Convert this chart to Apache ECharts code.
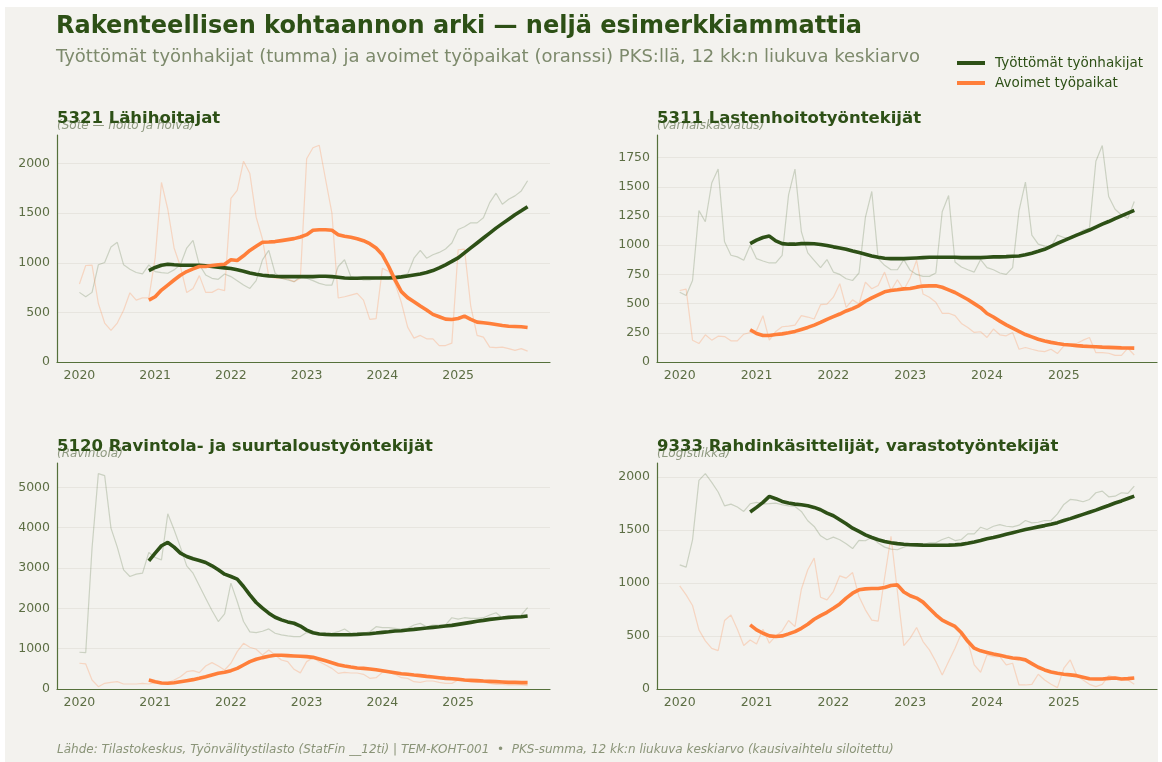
<!DOCTYPE html>
<html>
<head>
<meta charset="utf-8">
<script src="https://cdn.jsdelivr.net/npm/echarts@6/dist/echarts.min.js"></script>
<style>
  html, body { margin: 0; padding: 0; background: #fff; }
  #wrap { position: relative; width: 1162px; height: 762px; background: #fff; }
  #paper { position: absolute; left: 5px; top: 7px; right: 4px; bottom: 0; background: #f3f2ee; }
  #chart { position: absolute; left: 0; top: 0; width: 1162px; height: 762px; }
</style>
</head>
<body>
<div id="wrap"><div id="paper"></div><div id="chart"></div></div>
<script>
// kuukaudet 2020-01 ... 2025-12 indekseinä 0..71, liukuva ka alkaa 2020-12 (indeksi 11)
const YEARS = ['2020', '2021', '2022', '2023', '2024', '2025'];
const AVG_START = 11;

// 5321 Lähihoitajat
const p1Unemp = [702, 658, 702, 980, 1003, 1159, 1207, 980, 936, 902, 888, 980,
  912, 902, 895, 929, 980, 1149, 1227, 980, 878, 844, 834, 888,
  861, 820, 776, 742, 820, 1030, 1125, 895, 844, 827, 810, 861,
  844, 820, 793, 776, 776, 963, 1031, 861, 844, 827, 827, 844,
  861, 854, 861, 868, 888, 1047, 1125, 1047, 1081, 1105, 1139, 1200,
  1336, 1363, 1403, 1403, 1454, 1607, 1702, 1590, 1641, 1675, 1725, 1827];
const p1Vac = [786, 973, 976, 590, 393, 319, 393, 522, 698, 624, 647, 647,
  1050, 1810, 1540, 1150, 963, 700, 742, 871, 702, 702, 736, 719,
  1650, 1730, 2025, 1900, 1460, 1240, 861, 844, 844, 837, 810, 844,
  2050, 2160, 2185, 1840, 1500, 645, 658, 675, 692, 624, 430, 437,
  946, 912, 793, 600, 352, 241, 268, 234, 234, 166, 166, 190,
  1132, 1139, 560, 268, 251, 150, 145, 150, 135, 118, 135, 110];
const p1UnempAvg = [922, 953, 976, 986, 980, 976, 976, 976, 976, 970, 963, 956, 949,
  942, 929, 915, 898, 885, 875, 868, 864, 861, 861, 861, 861,
  861, 861, 864, 864, 861, 854, 847, 844, 844, 847, 847, 847,
  847, 847, 851, 858, 868, 878, 888, 902, 922, 949, 980, 1014,
  1050, 1100, 1150, 1200, 1250, 1300, 1350, 1395, 1440, 1485, 1525, 1566];
const p1VacAvg = [624, 658, 725, 776, 827, 875, 912, 939, 963, 963, 973, 980, 986,
  1031, 1024, 1071, 1125, 1166, 1207, 1210, 1214, 1224, 1234, 1244, 1261,
  1284, 1328, 1334, 1334, 1328, 1284, 1267, 1257, 1243, 1223, 1193, 1150,
  1081, 963, 828, 709, 649, 608, 564, 524, 480, 456, 432, 429,
  439, 463, 429, 402, 395, 388, 378, 368, 361, 358, 355, 348];

// 5311 Lastenhoitotyöntekijät
const p2Unemp = [598, 569, 698, 1296, 1201, 1532, 1652, 1029, 914, 900, 871, 1000,
  885, 865, 848, 848, 914, 1431, 1652, 1115, 934, 871, 808, 877,
  770, 750, 713, 698, 762, 1239, 1460, 885, 828, 790, 790, 877,
  785, 750, 733, 733, 762, 1287, 1425, 856, 813, 790, 770, 877,
  808, 790, 762, 750, 808, 1296, 1540, 1086, 1009, 992, 986, 1086,
  1066, 1066, 1086, 1129, 1144, 1719, 1854, 1417, 1308, 1259, 1230, 1374];
const p2Vac = [612, 624, 187, 158, 233, 187, 221, 218, 181, 181, 238, 253,
  270, 397, 187, 262, 302, 308, 316, 397, 385, 368, 491, 495,
  555, 670, 468, 532, 497, 684, 627, 655, 770, 612, 704, 618,
  720, 871, 583, 555, 512, 417, 417, 397, 330, 296, 253, 259,
  210, 282, 233, 224, 253, 109, 124, 109, 95, 89, 109, 72,
  138, 152, 158, 187, 210, 80, 80, 75, 57, 57, 118, 60];
const p2UnempAvg = [1014, 1043, 1066, 1078, 1037, 1014, 1009, 1009, 1014, 1014, 1012, 1006, 997,
  986, 977, 966, 951, 937, 923, 908, 897, 888, 885, 885, 885,
  888, 891, 894, 897, 897, 897, 897, 897, 894, 894, 894, 894,
  897, 900, 900, 902, 905, 908, 918, 932, 948, 965, 990, 1015,
  1040, 1063, 1086, 1108, 1130, 1155, 1180, 1203, 1228, 1252, 1275, 1298];
const p2VacAvg = [276, 244, 227, 227, 236, 241, 250, 262, 279, 296, 316, 339, 365,
  388, 411, 437, 457, 483, 520, 549, 575, 601, 612, 618, 626,
  630, 641, 650, 652, 652, 640, 618, 595, 565, 535, 500, 465,
  415, 385, 350, 318, 290, 262, 235, 215, 195, 180, 168, 158,
  150, 145, 140, 136, 133, 130, 127, 125, 123, 121, 120, 119];

// 5120 Ravintola- ja suurtaloustyöntekijät
const p3Unemp = [911, 903, 3494, 5341, 5291, 3991, 3519, 2956, 2790, 2848, 2873, 3387,
  3262, 3204, 4347, 3950, 3519, 3055, 2873, 2559, 2252, 1946, 1673, 1863,
  2625, 2169, 1673, 1416, 1399, 1432, 1490, 1383, 1341, 1317, 1300, 1300,
  1399, 1380, 1339, 1355, 1380, 1421, 1488, 1380, 1355, 1380, 1421, 1545,
  1520, 1520, 1504, 1488, 1504, 1587, 1628, 1545, 1587, 1587, 1587, 1768,
  1735, 1768, 1752, 1752, 1768, 1835, 1892, 1768, 1768, 1793, 1835, 2016];
const p3Vac = [638, 621, 224, 58, 141, 166, 182, 124, 124, 124, 141, 124,
  157, 157, 160, 224, 306, 430, 455, 406, 571, 654, 571, 472,
  638, 927, 1134, 1035, 985, 845, 969, 845, 720, 679, 489, 400,
  679, 777, 678, 595, 512, 388, 413, 397, 397, 364, 264, 281,
  413, 413, 364, 281, 264, 182, 165, 198, 198, 165, 140, 140,
  223, 207, 182, 165, 165, 140, 116, 116, 99, 99, 99, 83];
const p3UnempAvg = [3180, 3370, 3552, 3635, 3519, 3370, 3287, 3229, 3188, 3138, 3055, 2956, 2848,
  2790, 2724, 2542, 2335, 2145, 2004, 1880, 1780, 1714, 1664, 1631, 1560,
  1460, 1395, 1364, 1355, 1347, 1347, 1347, 1347, 1355, 1364, 1372, 1388,
  1405, 1421, 1438, 1446, 1463, 1479, 1496, 1512, 1529, 1545, 1562, 1578,
  1603, 1628, 1653, 1678, 1702, 1727, 1744, 1760, 1777, 1785, 1793, 1810];
const p3VacAvg = [224, 182, 149, 141, 157, 182, 207, 232, 265, 306, 348, 389, 414,
  455, 513, 596, 679, 737, 778, 811, 836, 836, 828, 820, 811,
  802, 785, 744, 702, 653, 603, 570, 545, 521, 512, 496, 479,
  455, 430, 405, 380, 364, 347, 331, 314, 298, 281, 264, 256,
  240, 223, 215, 207, 198, 190, 182, 174, 165, 165, 157, 157];

// 9333 Rahdinkäsittelijät, varastotyöntekijät
const p4Unemp = [1172, 1150, 1408, 1969, 2032, 1950, 1859, 1729, 1745, 1717, 1676, 1748,
  1761, 1748, 1750, 1755, 1739, 1729, 1723, 1676, 1588, 1534, 1446, 1408,
  1433, 1408, 1370, 1326, 1402, 1399, 1433, 1377, 1339, 1320, 1314, 1339,
  1363, 1370, 1363, 1380, 1380, 1411, 1432, 1401, 1411, 1464, 1464, 1527,
  1505, 1536, 1552, 1536, 1530, 1546, 1590, 1568, 1574, 1590, 1590, 1653,
  1742, 1789, 1783, 1767, 1789, 1852, 1868, 1814, 1820, 1852, 1846, 1915];
const p4Vac = [973, 888, 788, 558, 454, 384, 362, 646, 699, 564, 410, 463,
  425, 564, 432, 501, 548, 646, 589, 942, 1125, 1235, 866, 841,
  920, 1068, 1046, 1099, 873, 747, 650, 640, 1050, 1440, 920, 410,
  480, 580, 448, 369, 259, 133, 259, 385, 527, 448, 227, 158,
  322, 306, 306, 227, 243, 38, 38, 44, 139, 85, 44, 13,
  196, 274, 133, 85, 44, 22, 44, 126, 107, 101, 85, 44];
const p4UnempAvg = [1670, 1714, 1761, 1818, 1796, 1770, 1755, 1745, 1739, 1729, 1714, 1692, 1660,
  1635, 1597, 1559, 1518, 1487, 1455, 1430, 1408, 1392, 1380, 1372, 1366,
  1362, 1360, 1358, 1357, 1357, 1357, 1358, 1360, 1365, 1375, 1388, 1402,
  1418, 1430, 1445, 1460, 1475, 1490, 1505, 1518, 1530, 1542, 1555, 1570,
  1590, 1608, 1628, 1648, 1668, 1688, 1710, 1732, 1755, 1775, 1798, 1820];
const p4VacAvg = [605, 558, 526, 501, 495, 501, 520, 542, 573, 611, 658, 693, 724,
  762, 803, 857, 904, 936, 945, 948, 948, 958, 976, 983, 915,
  880, 858, 820, 760, 700, 650, 620, 590, 530, 450, 385, 360,
  345, 330, 318, 305, 293, 287, 275, 240, 205, 180, 160, 148,
  140, 133, 126, 112, 97, 95, 95, 100, 104, 95, 98, 104];

const DARK = '#2d5016';
const ORANGE = '#ff7f3a';
const AXIS = '#55703a';
const TICK_TEXT = '#5c6e44';
const MUTED = '#7d8a6c';
const FONT = 'DejaVu Sans';

const panels = [
  { title: '5321 Lähihoitajat', sub: '(Sote — hoito ja hoiva)', step: 500,
    u: p1Unemp, v: p1Vac, ua: p1UnempAvg, va: p1VacAvg,
    grid: { left: 57, top: 135, width: 493, height: 227 } },
  { title: '5311 Lastenhoitotyöntekijät', sub: '(Varhaiskasvatus)', step: 250,
    u: p2Unemp, v: p2Vac, ua: p2UnempAvg, va: p2VacAvg,
    grid: { left: 657, top: 135, width: 500, height: 227 } },
  { title: '5120 Ravintola- ja suurtaloustyöntekijät', sub: '(Ravintola)', step: 1000,
    u: p3Unemp, v: p3Vac, ua: p3UnempAvg, va: p3VacAvg,
    grid: { left: 57, top: 463, width: 493, height: 226 } },
  { title: '9333 Rahdinkäsittelijät, varastotyöntekijät', sub: '(Logistiikka)', step: 500,
    u: p4Unemp, v: p4Vac, ua: p4UnempAvg, va: p4VacAvg,
    grid: { left: 657, top: 463, width: 500, height: 226 } }
];

const yearTicks = YEARS.map((y, i) => i * 12);
const raw = arr => arr.map((val, i) => [i, val]);
const avg = arr => arr.map((val, i) => [i + AVG_START, val]);

const grids = [], xAxes = [], yAxes = [], series = [], titles = [];

titles.push({
  text: 'Rakenteellisen kohtaannon arki — neljä esimerkkiammattia',
  left: 56, top: 12, padding: 0,
  textStyle: { fontFamily: FONT, fontSize: 24, fontWeight: 'bold', color: DARK, lineHeight: 30 }
});
titles.push({
  text: 'Työttömät työnhakijat (tumma) ja avoimet työpaikat (oranssi) PKS:llä, 12 kk:n liukuva keskiarvo',
  left: 56, top: 46, padding: 0,
  textStyle: { fontFamily: FONT, fontSize: 18, fontWeight: 'normal', color: MUTED, lineHeight: 22 }
});
titles.push({
  text: 'Lähde: Tilastokeskus, Työnvälitystilasto (StatFin __12ti) | TEM-KOHT-001  •  PKS-summa, 12 kk:n liukuva keskiarvo (kausivaihtelu siloitettu)',
  left: 57, top: 743, padding: 0,
  textStyle: { fontFamily: FONT, fontSize: 12, fontStyle: 'italic', fontWeight: 'normal', color: '#8a9478', lineHeight: 14 }
});

panels.forEach((p, i) => {
  const all = p.u.concat(p.v, p.ua, p.va);
  const hi = Math.max(...all), lo = Math.min(...all);
  const yMax = hi + 0.05 * (hi - lo);

  grids.push(p.grid);
  titles.push({
    text: p.sub, left: p.grid.left, top: p.grid.top - 16, padding: 0,
    textStyle: { fontFamily: FONT, fontSize: 12, fontStyle: 'italic', fontWeight: 'normal', color: 'rgba(125,138,108,0.85)', lineHeight: 14 }
  });
  titles.push({
    text: p.title, left: p.grid.left, top: p.grid.top - 26, padding: 0,
    textStyle: { fontFamily: FONT, fontSize: 16.5, fontWeight: 'bold', color: DARK, lineHeight: 20 }
  });

  xAxes.push({
    type: 'value', gridIndex: i, min: -3.55, max: 74.55,
    axisLine: { show: true, onZero: false, lineStyle: { color: AXIS, width: 1.2 } },
    axisTick: { show: false },
    axisLabel: { customValues: yearTicks, formatter: v => YEARS[Math.round(v / 12)],
      color: TICK_TEXT, fontFamily: FONT, fontSize: 12.5, margin: 7 },
    splitLine: { show: false }
  });
  yAxes.push({
    type: 'value', gridIndex: i, min: 0, max: yMax, interval: p.step,
    axisLine: { show: true, onZero: false, lineStyle: { color: AXIS, width: 1.2 } },
    axisTick: { show: false },
    axisLabel: { color: TICK_TEXT, fontFamily: FONT, fontSize: 12.5, margin: 7, showMaxLabel: false,
      formatter: v => String(v) },
    splitLine: { show: true, showMaxLine: false, lineStyle: { color: '#e7e5df', width: 1 } }
  });

  const common = { type: 'line', xAxisIndex: i, yAxisIndex: i, symbol: 'none', showSymbol: false, silent: true, animation: false };
  series.push(Object.assign({}, common, { name: 'raw-u-' + i, data: raw(p.u), z: 1,
    lineStyle: { color: 'rgba(45,80,22,0.2)', width: 1.2 } }));
  series.push(Object.assign({}, common, { name: 'raw-v-' + i, data: raw(p.v), z: 1,
    lineStyle: { color: 'rgba(255,127,58,0.25)', width: 1.2 } }));
  series.push(Object.assign({}, common, { name: 'Työttömät työnhakijat', data: avg(p.ua), z: 3,
    itemStyle: { color: DARK }, lineStyle: { color: DARK, width: 3.6 } }));
  series.push(Object.assign({}, common, { name: 'Avoimet työpaikat', data: avg(p.va), z: 4,
    itemStyle: { color: ORANGE }, lineStyle: { color: ORANGE, width: 3.6 } }));
});

const chart = echarts.init(document.getElementById('chart'), null, { renderer: 'canvas' });
chart.setOption({
  backgroundColor: 'transparent',
  animation: false,
  title: titles,
  legend: {
    data: ['Työttömät työnhakijat', 'Avoimet työpaikat'],
    orient: 'vertical', left: 957, top: 56, padding: 0,
    icon: 'rect', itemWidth: 28, itemHeight: 4, itemGap: 6,
    textStyle: { fontFamily: FONT, fontSize: 13.5, color: DARK, padding: [0, 0, 0, 5] }
  },
  grid: grids,
  xAxis: xAxes,
  yAxis: yAxes,
  series: series
});
</script>
</body>
</html>
